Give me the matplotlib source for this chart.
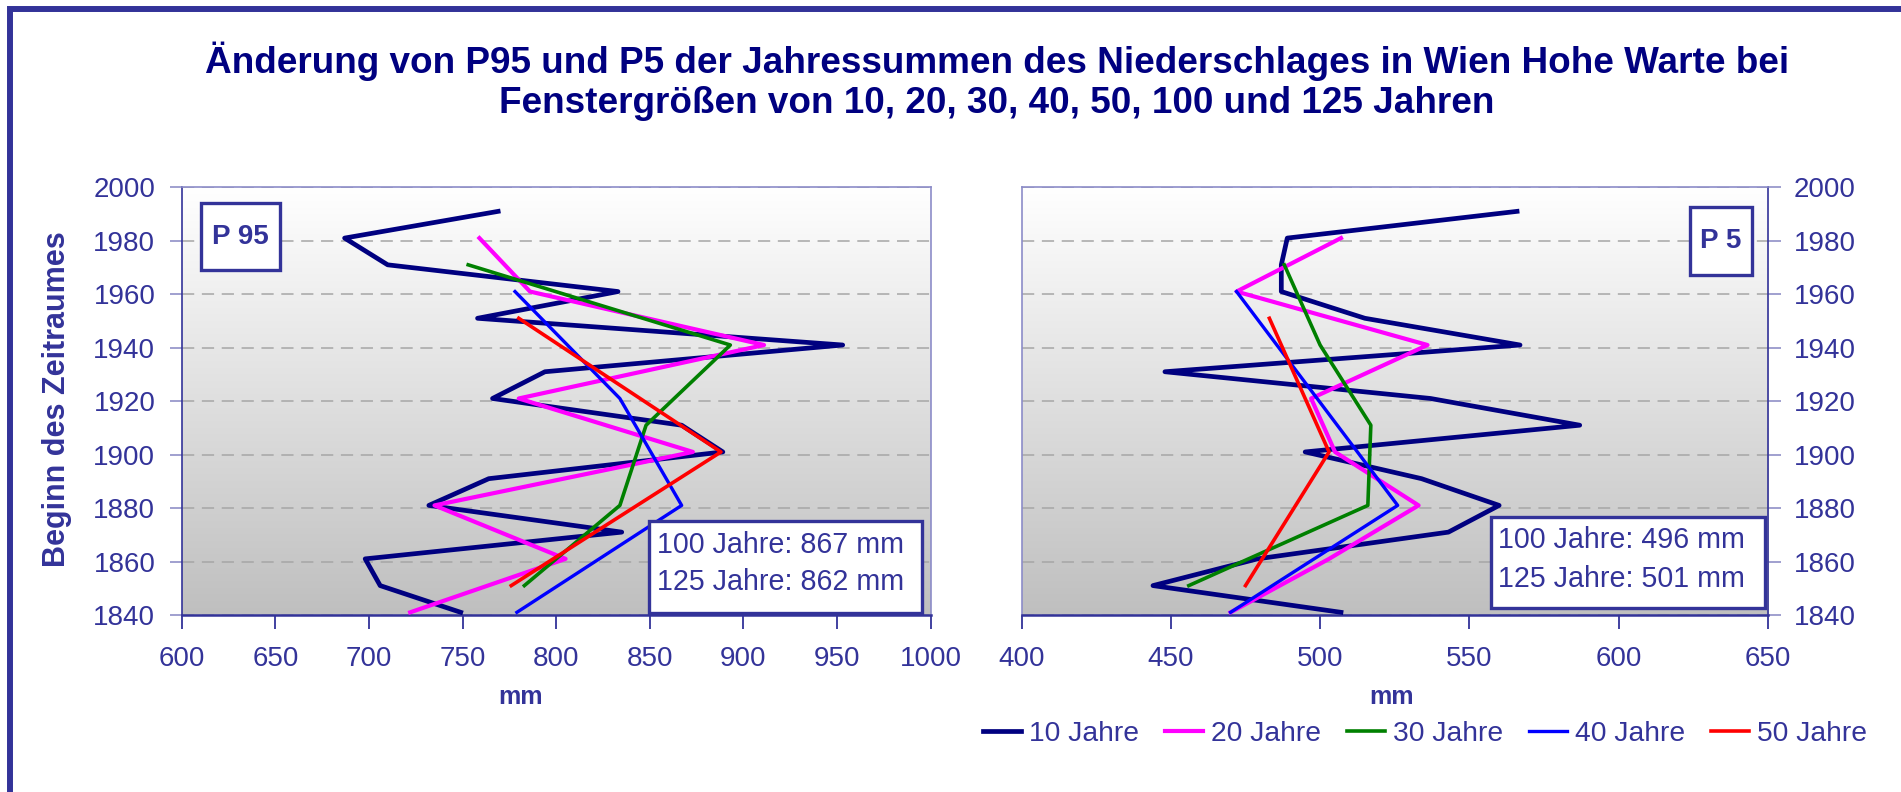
import numpy as np
import matplotlib
matplotlib.use("Agg")
import matplotlib.pyplot as plt
from matplotlib.patches import Rectangle
from matplotlib.colors import LinearSegmentedColormap

plt.rcParams['font.family'] = ['Liberation Sans', 'DejaVu Sans']

# --- data ---
years10 = [1841, 1851, 1861, 1871, 1881, 1891, 1901, 1911, 1921, 1931, 1941, 1951, 1961, 1971, 1981, 1991]
years20 = [1841, 1861, 1881, 1901, 1921, 1941, 1961, 1981]
years30 = [1851, 1881, 1911, 1941, 1971]
years40 = [1841, 1881, 1921, 1961]
years50 = [1851, 1901, 1951]

p95_10 = [749, 706, 698, 835, 732, 764, 889, 867, 766, 794, 953, 758, 833, 710, 687, 769]
p95_20 = [722, 805, 735, 873, 780, 911, 786, 759]
p95_30 = [783, 834, 848, 893, 753]
p95_40 = [779, 867, 834, 778]
p95_50 = [776, 888, 780]

p5_10 = [507, 444, 479, 543, 560, 534, 495, 587, 537, 448, 567, 515, 487, 487, 489, 566]
p5_20 = [470, 503, 533, 505, 497, 536, 472, 507]
p5_30 = [456, 516, 517, 500, 488]
p5_40 = [470, 526, 499, 472]
p5_50 = [475, 503, 483]

labels = ['10 Jahre', '20 Jahre', '30 Jahre', '40 Jahre', '50 Jahre']
colors = ['#000080', '#ff00ff', '#008000', '#0000ff', '#ff0000']
widths = [3.4, 3.0, 2.6, 2.4, 2.6]

ycats = [years10, years20, years30, years40, years50]
p95 = [p95_10, p95_20, p95_30, p95_40, p95_50]
p5 = [p5_10, p5_20, p5_30, p5_40, p5_50]

W, H = 1901, 792
DARK = '#333399'
fig = plt.figure(figsize=(W / 100, H / 100), dpi=100)


def fx(x):
    return x / W


def fy(y):
    return 1 - y / H


bg = LinearSegmentedColormap.from_list('bg', ['#ffffff', '#bfbfbf'])


def setup(ax, xlim, right=False):
    ax.imshow(np.linspace(0, 1, 256).reshape(-1, 1), cmap=bg, aspect='auto',
              extent=[xlim[0], xlim[1], 1840, 2000], zorder=0)
    ax.set_xlim(*xlim)
    ax.set_ylim(1840, 2000)
    ax.set_xticks(np.arange(xlim[0], xlim[1] + 1, 50))
    ax.set_yticks(np.arange(1840, 2001, 20))
    ax.set_axisbelow(True)
    ax.yaxis.grid(True, linestyle=(0, (8, 5)), color='#a6a6a6', lw=1.1)
    ax.tick_params(axis='x', direction='out', length=10, width=1.3, color=DARK,
                   labelsize=20, labelcolor=DARK, pad=12)
    ax.tick_params(axis='y', direction='out', length=9, width=1.3, color='#9999cc',
                   labelsize=20, labelcolor=DARK, pad=10)
    for s in ['top', 'left', 'right']:
        ax.spines[s].set_color('#8c8cc8')
        ax.spines[s].set_linewidth(1.2)
    ax.spines['bottom'].set_color(DARK)
    ax.spines['bottom'].set_linewidth(1.8)
    if right:
        ax.yaxis.tick_right()
        ax.spines['right'].set_color(DARK)
    else:
        ax.spines['left'].set_color(DARK)


ax1 = fig.add_axes([fx(181.7), fy(615), fx(930.7 - 181.7), (615 - 187.3) / H])
ax2 = fig.add_axes([fx(1021.7), fy(615), fx(1767.7 - 1021.7), (615 - 187.3) / H])
setup(ax1, (600, 1000))
setup(ax2, (400, 650), right=True)

handles = []
for yrs, v95, v5, c, lw, lab in zip(ycats, p95, p5, colors, widths, labels):
    h, = ax1.plot(v95, yrs, color=c, lw=lw, label=lab, zorder=3)
    ax2.plot(v5, yrs, color=c, lw=lw, zorder=3)
    handles.append(h)

# outer frame
fig.patches.append(Rectangle((fx(10), fy(1000)), 1.2, (1000 - 8.5) / H,
                             transform=fig.transFigure, fill=False,
                             edgecolor=DARK, lw=4.3))

# title
fig.text(fx(997), fy(73), 'Änderung von P95 und P5 der Jahressummen des Niederschlages in Wien Hohe Warte bei',
         ha='center', va='baseline', fontsize=26.6, fontweight='bold', color='#000080')
fig.text(fx(997), fy(113), 'Fenstergrößen von 10, 20, 30, 40, 50, 100 und 125 Jahren',
         ha='center', va='baseline', fontsize=26.6, fontweight='bold', color='#000080')

# axis labels
fig.text(fx(57), fy(399), 'Beginn des Zeitraumes', rotation=90, ha='center', va='center',
         fontsize=22, fontweight='bold', color=DARK)
fig.text(fx(520), fy(697), 'mm', ha='center', va='center', fontsize=18, fontweight='bold', color=DARK)
fig.text(fx(1391), fy(697), 'mm', ha='center', va='center', fontsize=18, fontweight='bold', color=DARK)


def box(x0, y0, x1, y1):
    fig.patches.append(Rectangle((fx(x0), fy(y1)), fx(x1 - x0), (y1 - y0) / H,
                                 transform=fig.transFigure, facecolor='white',
                                 edgecolor=DARK, lw=2.4, zorder=5))


box(201, 203, 280, 270)
fig.text(fx(240.5), fy(236.5), 'P 95', ha='center', va='center', fontsize=20,
         fontweight='bold', color=DARK, zorder=6)
box(1690, 207, 1752, 275)
fig.text(fx(1721), fy(241), 'P 5', ha='center', va='center', fontsize=20,
         fontweight='bold', color=DARK, zorder=6)

box(649, 521, 922, 613)
fig.text(fx(657), fy(553), '100 Jahre: 867 mm', ha='left', va='baseline', fontsize=20.6, color=DARK, zorder=6)
fig.text(fx(657), fy(590), '125 Jahre: 862 mm', ha='left', va='baseline', fontsize=20.6, color=DARK, zorder=6)
box(1491, 517, 1765, 608)
fig.text(fx(1498), fy(548), '100 Jahre: 496 mm', ha='left', va='baseline', fontsize=20.6, color=DARK, zorder=6)
fig.text(fx(1498), fy(587), '125 Jahre: 501 mm', ha='left', va='baseline', fontsize=20.6, color=DARK, zorder=6)

fig.legend(handles, labels, loc='center', bbox_to_anchor=(fx(1425), fy(734)), ncol=5,
           frameon=False, fontsize=20.3, handlelength=1.35, handletextpad=0.3,
           columnspacing=0.9, labelcolor=DARK)

fig.savefig('out.png', dpi=100)
